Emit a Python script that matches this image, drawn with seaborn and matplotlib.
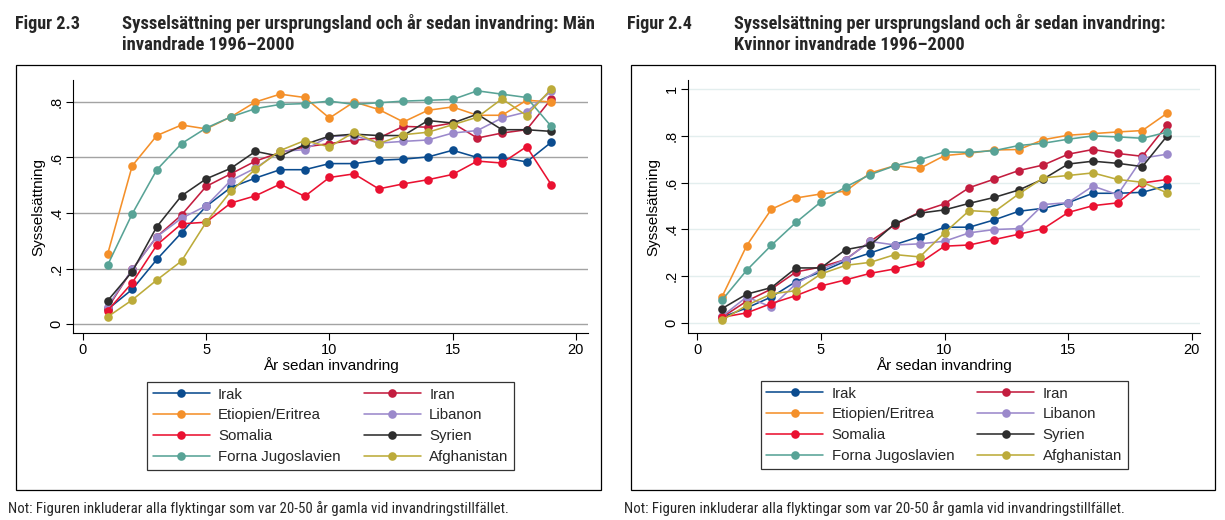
import matplotlib
matplotlib.use("Agg")
import numpy as np
import pandas as pd
import seaborn as sns
import matplotlib.pyplot as plt
from matplotlib import font_manager as fm
from matplotlib.patches import Rectangle
from matplotlib.lines import Line2D

# ---------------- data ----------------
years = list(range(1, 20))
countries = ["Irak", "Iran", "Etiopien/Eritrea", "Libanon", "Somalia",
             "Syrien", "Forna Jugoslavien", "Afghanistan"]

# Men (Figur 2.3)
men_irak = [0.053, 0.125, 0.233, 0.329, 0.424, 0.492, 0.526, 0.556, 0.556, 0.578,
            0.578, 0.590, 0.594, 0.602, 0.626, 0.600, 0.600, 0.584, 0.655]
men_iran = [0.057, 0.197, 0.315, 0.393, 0.496, 0.541, 0.587, 0.618, 0.638, 0.650,
            0.662, 0.670, 0.712, 0.709, 0.724, 0.670, 0.688, 0.700, 0.811]
men_etiopien = [0.251, 0.570, 0.679, 0.717, 0.703, 0.746, 0.800, 0.828, 0.816, 0.742,
                0.800, 0.773, 0.728, 0.770, 0.782, 0.752, 0.752, 0.806, 0.800]
men_libanon = [0.063, 0.197, 0.315, 0.381, 0.426, 0.517, 0.562, 0.622, 0.628, 0.676,
               0.679, 0.652, 0.658, 0.663, 0.688, 0.697, 0.742, 0.764, 0.839]
men_somalia = [0.048, 0.149, 0.285, 0.361, 0.367, 0.436, 0.462, 0.504, 0.460, 0.528,
               0.541, 0.487, 0.505, 0.520, 0.539, 0.587, 0.580, 0.639, 0.502]
men_syrien = [0.084, 0.189, 0.351, 0.462, 0.523, 0.561, 0.622, 0.604, 0.647, 0.677,
              0.684, 0.679, 0.679, 0.733, 0.724, 0.756, 0.700, 0.700, 0.694]
men_jugoslavien = [0.212, 0.397, 0.556, 0.650, 0.706, 0.746, 0.776, 0.791, 0.794, 0.803,
                   0.791, 0.797, 0.803, 0.806, 0.809, 0.840, 0.828, 0.816, 0.712]
men_afghanistan = [0.026, 0.087, 0.159, 0.227, 0.367, 0.478, 0.558, 0.625, 0.661, 0.638,
                   0.691, 0.650, 0.682, 0.691, 0.718, 0.745, 0.811, 0.751, 0.847]

# Women (Figur 2.4)
wom_irak = [0.024, 0.064, 0.111, 0.177, 0.218, 0.264, 0.299, 0.335, 0.369, 0.409,
            0.409, 0.440, 0.477, 0.490, 0.514, 0.554, 0.554, 0.558, 0.587]
wom_iran = [0.024, 0.093, 0.145, 0.218, 0.239, 0.271, 0.349, 0.420, 0.474, 0.509,
            0.578, 0.614, 0.651, 0.675, 0.721, 0.741, 0.724, 0.712, 0.846]
wom_etiopien = [0.111, 0.330, 0.486, 0.534, 0.551, 0.563, 0.641, 0.672, 0.660, 0.715,
                0.725, 0.739, 0.741, 0.783, 0.802, 0.809, 0.816, 0.822, 0.896]
wom_libanon = [0.028, 0.111, 0.068, 0.168, 0.228, 0.271, 0.348, 0.333, 0.338, 0.349,
               0.385, 0.399, 0.403, 0.506, 0.514, 0.585, 0.548, 0.704, 0.721]
wom_somalia = [0.024, 0.043, 0.083, 0.117, 0.158, 0.184, 0.212, 0.231, 0.256, 0.328,
               0.333, 0.356, 0.379, 0.403, 0.472, 0.501, 0.513, 0.598, 0.613]
wom_syrien = [0.061, 0.123, 0.151, 0.235, 0.235, 0.313, 0.333, 0.425, 0.469, 0.483,
              0.511, 0.536, 0.568, 0.615, 0.679, 0.691, 0.682, 0.668, 0.799]
wom_jugoslavien = [0.097, 0.225, 0.332, 0.430, 0.517, 0.581, 0.634, 0.672, 0.697, 0.731,
                   0.729, 0.736, 0.758, 0.768, 0.785, 0.799, 0.795, 0.789, 0.815]
wom_afghanistan = [0.011, 0.075, 0.124, 0.138, 0.209, 0.246, 0.259, 0.292, 0.282, 0.385,
                   0.480, 0.474, 0.551, 0.620, 0.630, 0.641, 0.613, 0.601, 0.556]

x_ticks = [0, 5, 10, 15, 20]
x_ticklabels = ["0", "5", "10", "15", "20"]
men_yticks = [0, 0.2, 0.4, 0.6, 0.8]
men_yticklabels = ["0", ".2", ".4", ".6", ".8"]
wom_yticks = [0, 0.2, 0.4, 0.6, 0.8, 1.0]
wom_yticklabels = ["0", ".2", ".4", ".6", ".8", "1"]

titles_fig = ["Figur 2.3", "Figur 2.4"]
titles_text = [["Sysselsättning per ursprungsland och år sedan invandring: Män",
                "invandrade 1996–2000"],
               ["Sysselsättning per ursprungsland och år sedan invandring:",
                "Kvinnor invandrade 1996–2000"]]
note_text = "Not: Figuren inkluderar alla flyktingar som var 20-50 år gamla vid invandringstillfället."
xlabel = "År sedan invandring"
ylabel = "Sysselsättning"

palette = {
    "Irak": "#0b4c8f",
    "Iran": "#c31d3f",
    "Etiopien/Eritrea": "#f4902a",
    "Libanon": "#9b89cb",
    "Somalia": "#ea1131",
    "Syrien": "#2e2e2e",
    "Forna Jugoslavien": "#58a396",
    "Afghanistan": "#bcab3a",
}

men = {"Irak": men_irak, "Iran": men_iran, "Etiopien/Eritrea": men_etiopien,
       "Libanon": men_libanon, "Somalia": men_somalia, "Syrien": men_syrien,
       "Forna Jugoslavien": men_jugoslavien, "Afghanistan": men_afghanistan}
wom = {"Irak": wom_irak, "Iran": wom_iran, "Etiopien/Eritrea": wom_etiopien,
       "Libanon": wom_libanon, "Somalia": wom_somalia, "Syrien": wom_syrien,
       "Forna Jugoslavien": wom_jugoslavien, "Afghanistan": wom_afghanistan}


def to_long(d):
    rows = []
    for c in countries:
        for y, v in zip(years, d[c]):
            rows.append((c, y, v))
    return pd.DataFrame(rows, columns=["country", "year", "value"])


df_men = to_long(men)
df_wom = to_long(wom)

# ---------------- fonts ----------------
sns.set_style("white")
plt.rcParams["font.family"] = ["Liberation Sans", "DejaVu Sans"]


def pick_condensed(bold):
    prefs = ["liberation sans narrow", "roboto condensed", "open sans condensed",
             "noto sans condensed", "dejavu sans condensed", "dejavu sans", "noto sans",
             "open sans", "roboto"]
    cands = []
    for f in fm.fontManager.ttflist:
        n = f.name.lower()
        fn = f.fname.lower()
        st = str(f.stretch).lower()
        iscond = ("narrow" in n or "condensed" in n or "condensed" in st
                  or "narrow" in fn or "condensed" in fn)
        if not iscond or "semi" in st or "semi" in fn or "extra" in fn or "ultra" in fn:
            continue
        if "italic" in str(f.style).lower() or "oblique" in str(f.style).lower() or "italic" in fn:
            continue
        w = f.weight
        try:
            wnum = int(w)
        except Exception:
            wnum = 700 if "bold" in str(w).lower() else 400
        if bold and wnum < 600:
            continue
        if not bold and (wnum >= 600 or wnum < 350):
            continue
        if bold and ("black" in fn or "heavy" in fn or "extrabold" in fn):
            continue
        if not bold and ("light" in fn or "thin" in fn or "medium" in fn):
            continue
        rank = len(prefs)
        for i, p in enumerate(prefs):
            if n.startswith(p):
                rank = i
                break
        cands.append((rank, fn, f.fname))
    if not cands:
        return None
    cands.sort()
    return cands[0][2]


bold_path = pick_condensed(True)
reg_path = pick_condensed(False)
fp_bold = fm.FontProperties(fname=bold_path) if bold_path else fm.FontProperties(
    family="Liberation Sans", weight="bold")
fp_reg = fm.FontProperties(fname=reg_path) if reg_path else fm.FontProperties(
    family="Liberation Sans")

# ---------------- figure ----------------
W, H = 1225, 520
fig = plt.figure(figsize=(W / 100, H / 100), dpi=100)
fig.patch.set_facecolor("white")


def fx(px):
    return px / W


def fy(py):
    return 1 - py / H


renderer = fig.canvas.get_renderer()


def fit_text(x, y, s, fp, target_w, base=12.0, **kw):
    fp = fp.copy()
    fp.set_size(base)
    t = fig.text(fx(x), fy(y), s, fontproperties=fp, va="baseline", ha="left", **kw)
    w = t.get_window_extent(renderer).width
    fp.set_size(base * target_w / w)
    t.set_fontproperties(fp)
    return fp.get_size()


panels = [
    dict(df=df_men, frame=(16, 65, 601, 490), ax=(73.3, 80, 588, 333),
         xlim=(-0.39, 20.49), ylim=(-0.032, 0.879), yt=men_yticks, ytl=men_yticklabels,
         grid="#a3a3a3", gridlw=1.0, tx_fig=15, tx=122, tw1=474, fw=65,
         note_x=8, leg_top=382),
    dict(df=df_wom, frame=(631, 65, 1215, 490), ax=(688.3, 80, 1200, 333),
         xlim=(-0.36, 20.33), ylim=(-0.043, 1.038), yt=wom_yticks, ytl=wom_yticklabels,
         grid="#e3eeee", gridlw=1.0, tx_fig=627, tx=734, tw1=434, fw=65,
         note_x=624, leg_top=381),
]

MS = 6.2
LW = 1.15

for i, p in enumerate(panels):
    # outer frame
    l, t, r, b = p["frame"]
    fig.patches.append(Rectangle((fx(l), fy(b)), fx(r) - fx(l), fy(t) - fy(b),
                                 transform=fig.transFigure, fill=False,
                                 edgecolor="black", linewidth=0.9, zorder=0))
    al, at, ar, ab = p["ax"]
    ax = fig.add_axes([fx(al), fy(ab), fx(ar) - fx(al), fy(at) - fy(ab)])
    ax.set_facecolor("none")
    sns.lineplot(data=p["df"], x="year", y="value", hue="country", hue_order=countries,
                 palette=palette, marker="o", markersize=MS, markeredgewidth=0,
                 linewidth=LW, ax=ax, legend=False, errorbar=None, sort=False)
    ax.set_xlim(*p["xlim"])
    ax.set_ylim(*p["ylim"])
    ax.set_xticks(x_ticks)
    ax.set_xticklabels(x_ticklabels)
    ax.set_yticks(p["yt"])
    ax.set_yticklabels(p["ytl"], rotation=90, va="center")
    for y in p["yt"]:
        ax.axhline(y, color=p["grid"], linewidth=p["gridlw"], zorder=0)
    for s in ["top", "right"]:
        ax.spines[s].set_visible(False)
    for s in ["left", "bottom"]:
        ax.spines[s].set_color("black")
        ax.spines[s].set_linewidth(0.8)
    ax.tick_params(axis="both", direction="out", length=5, width=0.8, color="black",
                   labelsize=10.5, labelcolor="black", pad=2,
                   left=True, bottom=True)
    ax.set_xlabel(xlabel, fontsize=11, labelpad=0, color="black")
    ax.set_ylabel(ylabel, fontsize=11, labelpad=3, color="black")

    # legend
    order = [0, 2, 4, 6, 1, 3, 5, 7]
    handles = [Line2D([], [], color=palette[countries[k]], marker="o", markersize=MS,
                      markeredgewidth=0, linewidth=LW) for k in order]
    labels = [countries[k] for k in order]
    cx = (al + ar) / 2
    leg = fig.legend(handles, labels, ncol=2, loc="upper center",
                     bbox_to_anchor=(fx(cx), fy(p["leg_top"])), frameon=True,
                     fancybox=False, edgecolor="black", fontsize=10.8,
                     handlelength=3.8, handletextpad=0.55, columnspacing=1.55,
                     labelspacing=0.45, borderpad=0.38, borderaxespad=0)
    leg.get_frame().set_linewidth(0.9)

    # titles
    fit_text(p["tx_fig"], 29, titles_fig[i], fp_bold, p["fw"])
    sz = fit_text(p["tx"], 29, titles_text[i][0], fp_bold, p["tw1"])
    fpb = fp_bold.copy()
    fpb.set_size(sz)
    fig.text(fx(p["tx"]), fy(50.5), titles_text[i][1], fontproperties=fpb,
             va="baseline", ha="left")
    # note
    fit_text(p["note_x"], 513, note_text, fp_reg, 500)

fig.savefig("out.png", dpi=100, facecolor="white")
